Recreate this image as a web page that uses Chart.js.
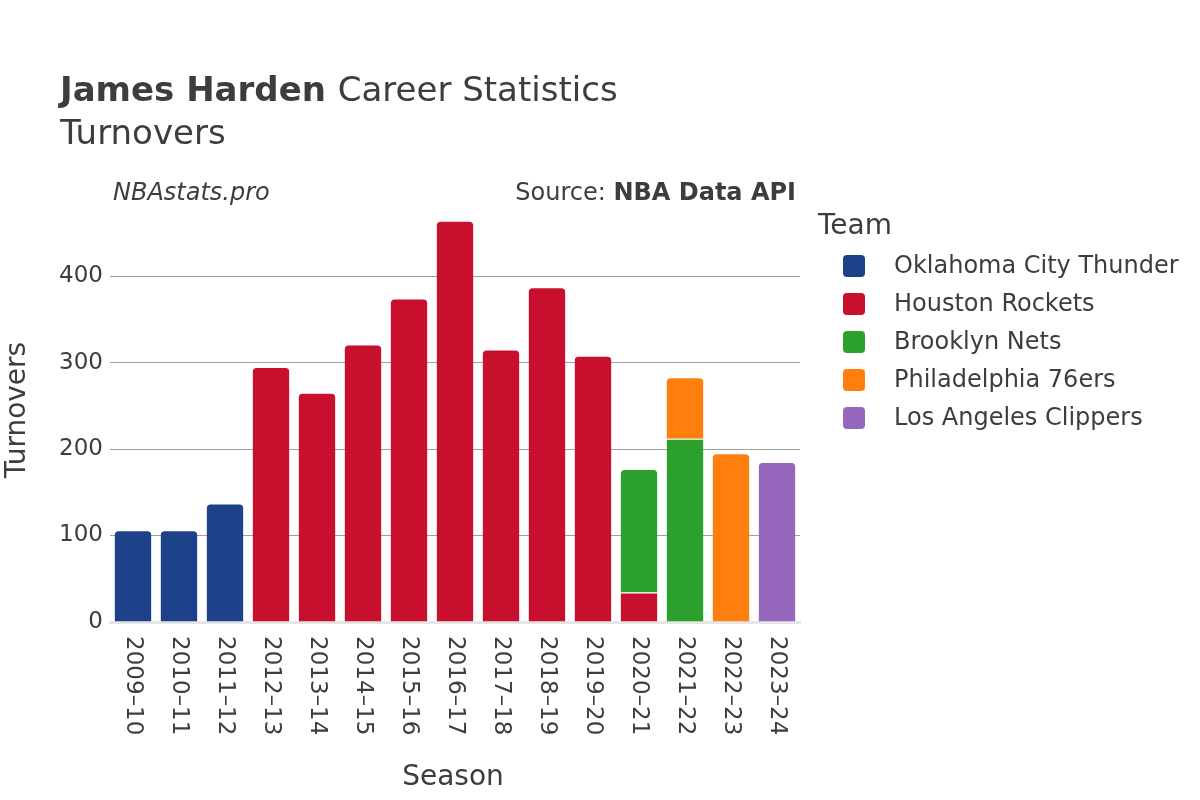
<!DOCTYPE html>
<html>
<head>
<meta charset="utf-8">
<script src="https://cdn.jsdelivr.net/npm/chart.js@4/dist/chart.umd.min.js"></script>
<style>
html,body{margin:0;padding:0;background:#fff;}
#wrap{width:1200px;height:800px;position:relative;}
</style>
</head>
<body>
<div id="wrap"><canvas id="c" width="1200" height="800"></canvas></div>
<script>
const seasons = ['2009–10','2010–11','2011–12','2012–13','2013–14','2014–15','2015–16','2016–17','2017–18','2018–19','2019–20','2020–21','2021–22','2022–23','2023–24'];
const okcTOV = [106,106,137,null,null,null,null,null,null,null,null,null,null,null,null];
const houTOV = [null,null,null,295,265,321,374,464,315,387,308,34,null,null,null];
const bknTOV = [null,null,null,null,null,null,null,null,null,null,null,143,212,null,null];
const phiTOV = [null,null,null,null,null,null,null,null,null,null,null,null,71,195,null];
const lacTOV = [null,null,null,null,null,null,null,null,null,null,null,null,null,null,185];
const teamNames = ['Oklahoma City Thunder','Houston Rockets','Brooklyn Nets','Philadelphia 76ers','Los Angeles Clippers'];
const teamColors = ['#1d428a','#c8102e','#2ca02c','#ff7f0e','#9467bd'];
const yTicks = [0,100,200,300,400];

const FONT = '"DejaVu Sans", sans-serif';
const TXT = '#3d3d3d';
const allSeries = [okcTOV, houTOV, bknTOV, phiTOV, lacTOV];

function isTop(dsIndex, i){
  for(let k = dsIndex+1; k < allSeries.length; k++){
    if(allSeries[k][i] != null && allSeries[k][i] > 0) return false;
  }
  return true;
}

const datasets = allSeries.map((arr, di) => ({
  label: teamNames[di],
  data: arr,
  backgroundColor: teamColors[di],
  borderColor: '#ffffff',
  borderWidth: {top:1, left:0, right:0, bottom:0},
  borderSkipped: 'start',
  borderRadius: ctx => isTop(di, ctx.dataIndex) ? {topLeft:5, topRight:5, bottomLeft:0, bottomRight:0} : 0,
  barPercentage: 0.8,
  categoryPercentage: 1.0
}));

const overlay = {
  id: 'overlay',
  afterDraw(chart){
    const c = chart.ctx;
    const xs = chart.scales.x;
    const area = chart.chartArea;
    c.save();
    c.fillStyle = TXT;
    c.textBaseline = 'alphabetic';
    c.textAlign = 'left';
    // Title
    c.font = 'bold 34px ' + FONT;
    c.fillText('James Harden', 60, 101);
    const w = c.measureText('James Harden ').width;
    c.font = '34px ' + FONT;
    c.fillText('Career Statistics', 60 + w, 101);
    c.fillText('Turnovers', 60, 144);
    // Subtitles
    c.font = 'italic 24px ' + FONT;
    c.fillText('NBAstats.pro', 113, 200);
    c.textAlign = 'right';
    c.font = 'bold 24px ' + FONT;
    const bw = c.measureText('NBA Data API').width;
    c.fillText('NBA Data API', 796, 200);
    c.font = '24px ' + FONT;
    c.fillText('Source: ', 796 - bw, 200);
    // X tick labels rotated
    c.font = '23px ' + FONT;
    c.textAlign = 'left';
    c.textBaseline = 'middle';
    seasons.forEach((s, i) => {
      const x = xs.getPixelForValue(i);
      c.save();
      c.translate(x, area.bottom + 14);
      c.rotate(Math.PI/2);
      c.fillText(s, 0, 0);
      c.restore();
    });
    // Axis titles
    c.font = '28px ' + FONT;
    c.textAlign = 'center';
    c.textBaseline = 'middle';
    c.fillText('Season', (area.left + area.right)/2 - 2, 778);
    c.save();
    c.translate(18, 410);
    c.rotate(-Math.PI/2);
    c.fillText('Turnovers', 0, 0);
    c.restore();
    // Legend
    c.textAlign = 'left';
    c.font = '28px ' + FONT;
    c.fillText('Team', 818, 227);
    c.font = '24px ' + FONT;
    teamNames.forEach((n, i) => {
      const y = 266 + i*38;
      c.fillStyle = teamColors[i];
      c.beginPath();
      if (c.roundRect) c.roundRect(843, y-11, 22, 22, 4); else c.rect(843, y-11, 22, 22);
      c.fill();
      c.fillStyle = TXT;
      c.fillText(n, 894, y+1);
    });
    c.restore();
  }
};

new Chart(document.getElementById('c'), {
  type: 'bar',
  data: { labels: seasons, datasets },
  options: {
    responsive: false,
    animation: false,
    layout: { padding: { left: 0, top: 200, right: 400, bottom: 178 } },
    plugins: { legend: { display: false }, title: { display: false }, tooltip: { enabled: false } },
    scales: {
      x: {
        stacked: true,
        grid: { display: false },
        border: { display: true, color: '#e6e6e6', width: 3 },
        ticks: { display: false },
        afterFit(scale){ scale.height = 0; }
      },
      y: {
        stacked: true,
        min: 0,
        max: 488,
        afterBuildTicks(scale){ scale.ticks = yTicks.map(v => ({value: v})); },
        grid: {
          color: ctx => ctx.tick && ctx.tick.value === 0 ? 'rgba(0,0,0,0)' : '#a0a0a0',
          lineWidth: 1,
          drawTicks: false
        },
        border: { display: false },
        ticks: { color: TXT, font: { family: FONT, size: 23 }, padding: 7 },
        afterFit(scale){ scale.width = 110; }
      }
    }
  },
  plugins: [overlay]
});
</script>
</body>
</html>
